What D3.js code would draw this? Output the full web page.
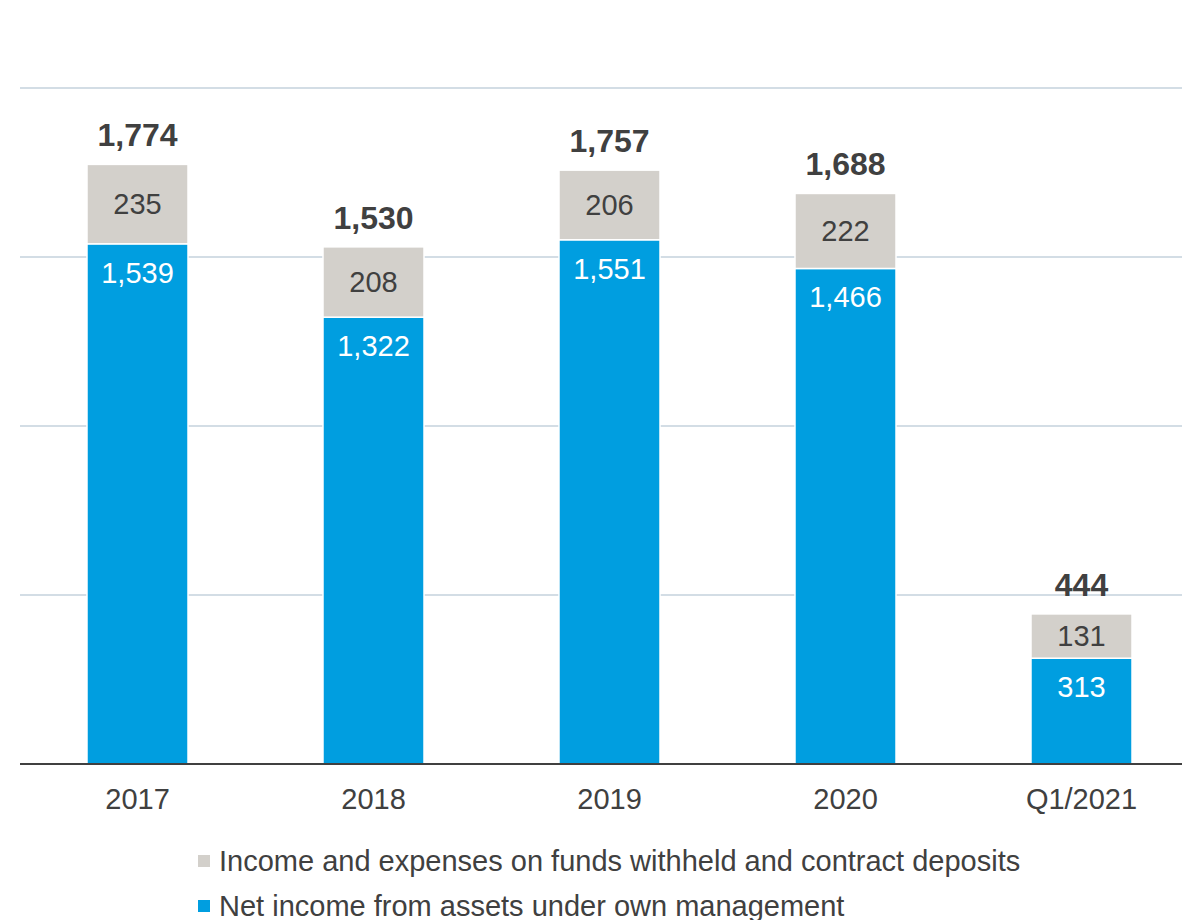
<!DOCTYPE html>
<html>
<head>
<meta charset="utf-8">
<script src="https://cdn.jsdelivr.net/npm/d3@7/dist/d3.min.js"></script>
<style>
  html, body { margin: 0; padding: 0; background: #fff; }
  svg { display: block; font-family: "Liberation Sans", Arial, sans-serif; }
</style>
</head>
<body>
<svg id="chart" width="1182" height="920"></svg>
<script>
const categories = ["2017", "2018", "2019", "2020", "Q1/2021"];
const netIncome = [1539, 1322, 1551, 1466, 313];
const fundsWithheld = [235, 208, 206, 222, 131];
const totals = [1774, 1530, 1757, 1688, 444];
const gridTicks = [500, 1000, 1500, 2000];
const legendLabels = [
  "Income and expenses on funds withheld and contract deposits",
  "Net income from assets under own management"
];

const blue = "#009ee0", grey = "#d3d0cb", text = "#404040", gridC = "#d3dde5";
const svg = d3.select("#chart");

const x = d3.scaleBand().domain(categories).range([19.5, 1199.5])
  .paddingInner(0.572).paddingOuter(0.286);
const y = d3.scaleLinear().domain([0, 2000]).range([764, 88]);
const fmt = d3.format(",");

// gridlines
svg.append("g").selectAll("line").data(gridTicks).join("line")
  .attr("x1", 20).attr("x2", 1182)
  .attr("y1", d => y(d)).attr("y2", d => y(d))
  .attr("stroke", gridC).attr("stroke-width", 2);

const rows = categories.map((c, i) => ({c, a: netIncome[i], b: fundsWithheld[i], t: totals[i]}));

const g = svg.append("g");
g.selectAll("rect.a").data(rows).join("rect").attr("class", "a")
  .attr("x", d => x(d.c)).attr("width", x.bandwidth())
  .attr("y", d => y(d.a)).attr("height", d => y(0) - y(d.a))
  .attr("fill", blue).attr("stroke", "#fff").attr("stroke-width", 1.5);
g.selectAll("rect.b").data(rows).join("rect").attr("class", "b")
  .attr("x", d => x(d.c)).attr("width", x.bandwidth())
  .attr("y", d => y(d.a + d.b)).attr("height", d => y(d.a) - y(d.a + d.b))
  .attr("fill", grey).attr("stroke", "#fff").attr("stroke-width", 1.5);

g.selectAll("text.a").data(rows).join("text").attr("class", "a")
  .attr("x", d => x(d.c) + x.bandwidth() / 2).attr("y", d => y(d.a) + 39)
  .attr("text-anchor", "middle").attr("fill", "#fff").attr("font-size", 29)
  .text(d => fmt(d.a));
g.selectAll("text.b").data(rows).join("text").attr("class", "b")
  .attr("x", d => x(d.c) + x.bandwidth() / 2).attr("y", d => (y(d.a) + y(d.a + d.b)) / 2 + 10)
  .attr("text-anchor", "middle").attr("fill", text).attr("font-size", 29)
  .text(d => fmt(d.b));
g.selectAll("text.t").data(rows).join("text").attr("class", "t")
  .attr("x", d => x(d.c) + x.bandwidth() / 2).attr("y", d => y(d.a + d.b) - 18)
  .attr("text-anchor", "middle").attr("fill", text).attr("font-size", 32).attr("font-weight", "bold")
  .text(d => fmt(d.t));

const xAxis = svg.append("g").attr("transform", `translate(0,${y(0)})`)
  .call(d3.axisBottom(x).tickSize(0).tickPadding(24));
xAxis.select(".domain").remove();
xAxis.selectAll("text").attr("font-size", 29).attr("fill", text)
  .attr("font-family", "Liberation Sans, Arial, sans-serif");
svg.append("line").attr("x1", 20).attr("x2", 1182).attr("y1", y(0)).attr("y2", y(0))
  .attr("stroke", text).attr("stroke-width", 2);

const leg = svg.append("g");
const legColors = [grey, blue];
legendLabels.forEach((l, i) => {
  const yy = 871 + i * 45;
  leg.append("rect").attr("x", 198).attr("y", yy - 16).attr("width", 12).attr("height", 12).attr("fill", legColors[i]);
  leg.append("text").attr("x", 219).attr("y", yy).attr("font-size", 29).attr("fill", text).text(l);
});
</script>
</body>
</html>
